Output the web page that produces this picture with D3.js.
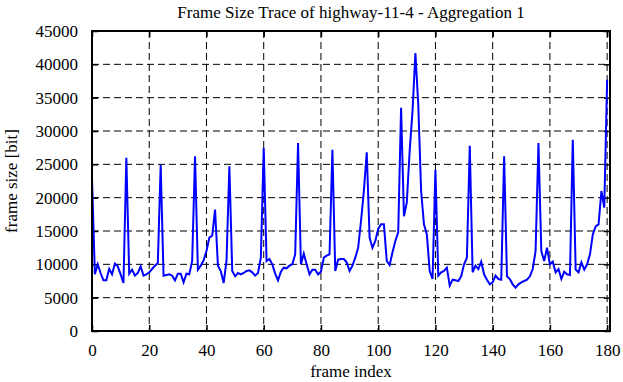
<!DOCTYPE html>
<html>
<head>
<meta charset="utf-8">
<script src="https://cdn.jsdelivr.net/npm/d3@7"></script>
<style>
  body { margin: 0; background: #fff; }
  svg text { font-family: "Liberation Serif", "DejaVu Serif", serif; fill: #000; }
</style>
</head>
<body>
<svg id="chart"></svg>
<script>
// frame sizes in bit, one per frame (frame index = position)
const frameSize = [
  23000, 8500, 10000, 8700, 7600, 7600, 9300, 8500, 10100, 9700,
  8500, 7200, 26000, 8600, 9200, 8300, 8700, 9700, 8300, 8500,
  8800, 9300, 9800, 10200, 24900, 8300, 8400, 8500, 8300, 7600,
  8600, 8600, 7300, 8600, 8500, 10500, 26200, 9200, 9800, 10600,
  12000, 14000, 14300, 18200, 9800, 9000, 7200, 10500, 24700, 9000,
  8200, 8700, 8500, 8700, 9000, 9100, 8800, 8300, 8700, 11000,
  27450, 10500, 10800, 10000, 8600, 7600, 8900, 9500, 9400, 9800,
  10000, 11500, 28200, 10000, 11600, 10000, 8500, 9200, 9200, 8500,
  8900, 11000, 11300, 11500, 27200, 9000, 10700, 10800, 10800, 10300,
  9000, 9800, 11000, 12500, 16500, 21000, 26800, 14000, 12500, 13500,
  15300, 16000, 16000, 10500, 9900, 11800, 13500, 14800, 33500, 17200,
  19300, 27000, 33000, 41700, 34000, 21000, 16000, 14500, 9000, 7800,
  24200, 8300, 8800, 9000, 9500, 6800, 7700, 7600, 7500, 8200,
  10000, 11000, 27800, 8800, 9800, 9300, 10400, 8500, 7700, 7000,
  7300, 8300, 7800, 7700, 26200, 8200, 7800, 7000, 6500, 7000,
  7300, 7500, 7700, 8200, 9300, 12000, 28200, 12000, 10500, 12500,
  10000, 10400, 8800, 9300, 7800, 8900, 8500, 8400, 28700, 9200,
  8800, 10300, 9200, 10000, 11500, 14500, 15700, 16000, 21000, 18500,
  37700
];
const xTicks = [0, 20, 40, 60, 80, 100, 120, 140, 160, 180];
const yTicks = [0, 5000, 10000, 15000, 20000, 25000, 30000, 35000, 40000, 45000];

const width = 623, height = 382;
const margin = { top: 31, right: 13, bottom: 51, left: 92 };
const w = width - margin.left - margin.right;
const h = height - margin.top - margin.bottom;
const serif = '"Liberation Serif", "DejaVu Serif", serif';

const svg = d3.select('#chart').attr('width', width).attr('height', height);
const g = svg.append('g').attr('transform', `translate(${margin.left},${margin.top})`);

const x = d3.scaleLinear().domain([0, 181]).range([0, w]);
const y = d3.scaleLinear().domain([0, 45000]).range([h, 0]);

// dashed grid
g.append('g').selectAll('line')
  .data(xTicks.filter(d => d > 0))
  .join('line')
  .attr('x1', d => x(d)).attr('x2', d => x(d))
  .attr('y1', 0).attr('y2', h)
  .attr('stroke', '#000').attr('stroke-width', 1).attr('stroke-dasharray', '7,4');
g.append('g').selectAll('line')
  .data(yTicks.filter(d => d > 0 && d < 45000))
  .join('line')
  .attr('x1', 0).attr('x2', w)
  .attr('y1', d => y(d)).attr('y2', d => y(d))
  .attr('stroke', '#000').attr('stroke-width', 1).attr('stroke-dasharray', '7,4');

// inner ticks on all four sides
const tl = 6;
const fmt = d3.format('d');
const axB = g.append('g').attr('transform', `translate(0,${h})`)
  .call(d3.axisBottom(x).tickValues(xTicks).tickFormat(fmt).tickSize(-tl).tickPadding(tl + 7));
const axT = g.append('g').call(d3.axisTop(x).tickValues(xTicks).tickSize(-tl).tickFormat(''));
const axL = g.append('g').call(d3.axisLeft(y).tickValues(yTicks).tickFormat(fmt).tickSize(-tl).tickPadding(tl + 8));
const axR = g.append('g').attr('transform', `translate(${w},0)`)
  .call(d3.axisRight(y).tickValues(yTicks).tickSize(-tl).tickFormat(''));

[axB, axT, axL, axR].forEach(a => {
  a.attr('font-family', serif).attr('font-size', 17);
  a.select('.domain').remove();
  a.selectAll('.tick line').attr('stroke', '#000').attr('stroke-width', 1.5);
  a.selectAll('text').attr('fill', '#000');
});

// the trace
const line = d3.line().x((d, i) => x(i)).y(d => y(d));
g.append('path')
  .datum(frameSize)
  .attr('d', line)
  .attr('fill', 'none')
  .attr('stroke', '#0000ff')
  .attr('stroke-width', 2)
  .attr('stroke-linejoin', 'miter');

// frame
g.append('rect')
  .attr('width', w).attr('height', h)
  .attr('fill', 'none').attr('stroke', '#000').attr('stroke-width', 2);

// titles
svg.append('text')
  .attr('x', margin.left + w / 2).attr('y', 18)
  .attr('text-anchor', 'middle').attr('font-size', 17)
  .text('Frame Size Trace of highway-11-4 - Aggregation 1');
svg.append('text')
  .attr('x', margin.left + w / 2).attr('y', 377)
  .attr('text-anchor', 'middle').attr('font-size', 17)
  .text('frame index');
svg.append('text')
  .attr('transform', `translate(17,${margin.top + h / 2}) rotate(-90)`)
  .attr('text-anchor', 'middle').attr('font-size', 17)
  .text('frame size [bit]');
</script>
</body>
</html>
